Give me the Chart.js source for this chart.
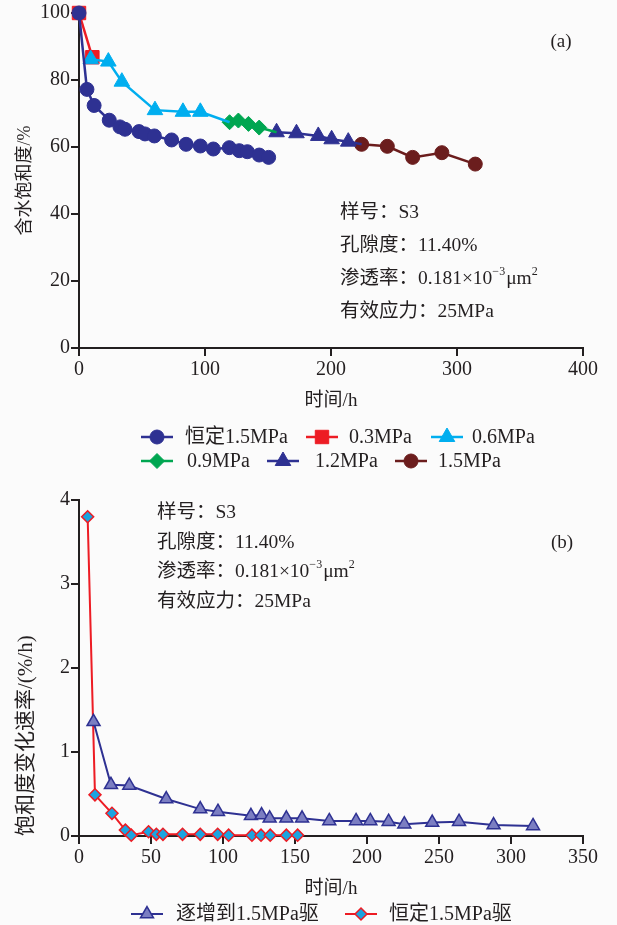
<!DOCTYPE html>
<html>
<head>
<meta charset="utf-8">
<script src="https://cdn.jsdelivr.net/npm/chart.js@4.4.0/dist/chart.umd.min.js"></script>
<style>
  html, body { margin: 0; padding: 0; background: #fbfbfb; }
  #wrap { position: relative; width: 617px; height: 925px; }
  canvas { position: absolute; left: 0; }
  #satChart { top: 0; }
  #rateChart { top: 478px; }
</style>
</head>
<body>
<div id="wrap">
  <canvas id="satChart" width="617" height="478"></canvas>
  <canvas id="rateChart" width="617" height="447"></canvas>
</div>
<script>
// ---- data (a): water saturation vs time ----
const constTime = [0, 6.3, 12, 24, 32.5, 36.5, 47.6, 52.4, 59.8, 73.5, 85, 96.3, 106.6, 119.3, 127.2, 133.6, 143, 150.5];
const constSat  = [100, 77.2, 72.4, 68, 66, 65.3, 64.6, 63.9, 63.3, 62.1, 60.8, 60.3, 59.4, 59.8, 58.9, 58.6, 57.6, 56.9];
const p03Time = [0, 10.6];
const p03Sat  = [100, 86.8];
const p06Time = [9.3, 23.3, 34, 60.3, 82.5, 96.3];
const p06Sat  = [86.2, 85.5, 79.5, 71, 70.5, 70.5];
const p09Time = [119.5, 126.5, 134.5, 143];
const p09Sat  = [67.4, 67.9, 66.9, 65.8];
const p12Time = [156.8, 172.6, 189.9, 200.5, 213.7];
const p12Sat  = [64.4, 64.1, 63.3, 62.3, 61.6];
const p15Time = [224.3, 244.7, 264.8, 288, 314.5];
const p15Sat  = [60.8, 60.2, 56.9, 58.3, 54.9];

// ---- data (b): saturation change rate vs time ----
const stepTime = [10.1, 22.2, 34.9, 60.6, 84.2, 96.5, 119.4, 126.8, 132.4, 144, 154.9, 173.8, 192.4, 202.3, 215, 225.9, 245.3, 263.9, 287.9, 315.3];
const stepRate = [1.36, 0.61, 0.60, 0.44, 0.32, 0.29, 0.24, 0.25, 0.21, 0.21, 0.21, 0.18, 0.18, 0.18, 0.17, 0.14, 0.16, 0.17, 0.13, 0.12];
const constRateTime = [6, 11.1, 22.9, 32.2, 36.3, 48.3, 53.7, 58.3, 71.9, 84.2, 96.3, 103.9, 120.1, 126.4, 132.8, 144, 151.8];
const constRate     = [3.80, 0.49, 0.27, 0.07, 0.01, 0.05, 0.02, 0.02, 0.02, 0.02, 0.02, 0.01, 0.01, 0.01, 0.01, 0.01, 0.01];

const satTicks = { min: 0, max: 100, step: 20 };
const timeTicksA = { min: 0, max: 400, step: 100 };
const rateTicks = { min: 0, max: 4, step: 1 };
const timeTicksB = { min: 0, max: 350, step: 50 };

const infoText = [
  [{ t: '样号：S3' }],
  [{ t: '孔隙度：11.40%' }],
  [{ t: '渗透率：0.181×10' }, { t: '−3', sup: true }, { t: 'μm' }, { t: '2', sup: true }],
  [{ t: '有效应力：25MPa' }]
];

const SERIF = "'Liberation Serif', 'Noto Sans CJK SC', serif";
const INK = '#231f20';
const NAVY = '#2e3192';
const RED = '#ed1c24';
const SKY = '#00aeef';
const GREEN = '#00a651';
const BROWN = '#6b1d1d';
const FS = 20;

Chart.defaults.font.family = SERIF;
Chart.defaults.color = INK;

const pts = (xs, ys) => xs.map((x, i) => ({ x: x, y: ys[i] }));

// a series, optionally running its line on to the first point of the next stage
function stage(label, xs, ys, color, style, r, order, nextXs, nextYs) {
  const data = pts(xs, ys);
  if (nextXs) data.push({ x: nextXs[0], y: nextYs[0] });
  const n = xs.length;
  return {
    label: label,
    data: data,
    showLine: true,
    borderColor: color,
    borderWidth: 2.5,
    backgroundColor: color,
    pointBackgroundColor: color,
    pointBorderColor: color,
    pointBorderWidth: 1,
    pointStyle: style,
    pointRadius: c => c.dataIndex < n ? r : 0,
    legendRadius: r,
    order: order,
    clip: false
  };
}

const notesPlugin = {
  id: 'notes',
  afterDraw(chart, args, opts) {
    const ctx = chart.ctx;
    ctx.save();
    ctx.fillStyle = INK;
    ctx.textBaseline = 'middle';
    ctx.textAlign = 'left';
    opts.lines.forEach((parts, i) => {
      let x = opts.x;
      const y = opts.y + i * opts.gap;
      parts.forEach(p => {
        ctx.font = (p.sup ? 12 : 19.5) + 'px ' + SERIF;
        ctx.fillText(p.t, x, p.sup ? y - 7 : y);
        x += ctx.measureText(p.t).width + (p.sup ? 1 : 0);
      });
    });
    ctx.font = '19px ' + SERIF;
    ctx.textAlign = 'center';
    ctx.fillText(opts.tag, opts.tagX, opts.tagY);
    ctx.restore();
  }
};

const keyPlugin = {
  id: 'key',
  afterDraw(chart, args, opts) {
    const ctx = chart.ctx;
    ctx.save();
    opts.items.forEach(it => {
      const ds = chart.data.datasets[it.ds];
      ctx.strokeStyle = ds.borderColor;
      ctx.lineWidth = ds.borderWidth;
      ctx.beginPath();
      ctx.moveTo(it.x - 16, it.y);
      ctx.lineTo(it.x + 16, it.y);
      ctx.stroke();
      ctx.fillStyle = ds.pointBackgroundColor;
      ctx.strokeStyle = ds.pointBorderColor;
      ctx.lineWidth = ds.pointBorderWidth;
      Chart.helpers.drawPoint(ctx, {
        pointStyle: ds.pointStyle,
        radius: ds.legendRadius,
        borderWidth: ds.pointBorderWidth,
        rotation: 0
      }, it.x, it.y);
      ctx.fillStyle = INK;
      ctx.font = FS + 'px ' + SERIF;
      ctx.textBaseline = 'middle';
      ctx.textAlign = 'left';
      ctx.fillText(ds.label, it.tx, it.y + 1);
    });
    ctx.restore();
  }
};

function axisX(t, afterH) {
  return {
    type: 'linear', min: t.min, max: t.max,
    ticks: { stepSize: t.step, font: { size: FS }, color: INK, padding: 2, maxRotation: 0 },
    grid: { drawOnChartArea: false, drawTicks: true, tickLength: 8, color: INK, lineWidth: 2 },
    border: { color: INK, width: 2 },
    title: { display: true, text: '时间/h', font: { size: 19 }, color: INK, padding: 0 },
    afterFit: s => { s.height = afterH; }
  };
}

function axisY(t, title, align, size) {
  return {
    type: 'linear', min: t.min, max: t.max,
    ticks: { stepSize: t.step, font: { size: FS }, color: INK, padding: 1 },
    grid: { drawOnChartArea: false, drawTicks: true, tickLength: 8, color: INK, lineWidth: 2 },
    border: { color: INK, width: 2 },
    title: { display: true, text: title, font: { size: size }, color: INK, padding: { top: 14 }, align: align },
    afterFit: s => { s.width = 79; }
  };
}

new Chart(document.getElementById('satChart'), {
  type: 'scatter',
  data: {
    datasets: [
      stage('恒定1.5MPa', constTime, constSat, NAVY, 'circle', 7, 0),
      stage('0.3MPa', p03Time, p03Sat, RED, 'rect', 9.5, 2),
      stage('0.6MPa', p06Time, p06Sat, SKY, 'triangle', 9, 1, p09Time, p09Sat),
      stage('0.9MPa', p09Time, p09Sat, GREEN, 'rectRot', 7.5, 3, p12Time, p12Sat),
      stage('1.2MPa', p12Time, p12Sat, NAVY, 'triangle', 9, 4, p15Time, p15Sat),
      stage('1.5MPa', p15Time, p15Sat, BROWN, 'circle', 7, 5)
    ]
  },
  options: {
    responsive: false,
    animation: false,
    layout: { padding: { left: 0, right: 34, top: 13, bottom: 66 } },
    scales: { x: axisX(timeTicksA, 64), y: axisY(satTicks, '含水饱和度/%', 'center', 18) },
    plugins: {
      legend: { display: false },
      tooltip: { enabled: false },
      notes: { lines: infoText, x: 340, y: 213, gap: 33, tag: '(a)', tagX: 561, tagY: 42 },
      key: { items: [
        { ds: 0, x: 157, y: 437, tx: 185 },
        { ds: 1, x: 322, y: 437, tx: 349 },
        { ds: 2, x: 447, y: 437, tx: 472 },
        { ds: 3, x: 157, y: 461, tx: 187 },
        { ds: 4, x: 283, y: 461, tx: 315 },
        { ds: 5, x: 411, y: 461, tx: 438 }
      ] }
    }
  },
  plugins: [notesPlugin, keyPlugin]
});

function rateSeries(label, xs, ys, line, fill, style, r, order) {
  return {
    label: label,
    data: pts(xs, ys),
    showLine: true,
    borderColor: line,
    borderWidth: 2,
    backgroundColor: fill,
    pointBackgroundColor: fill,
    pointBorderColor: line,
    pointBorderWidth: 1.5,
    pointStyle: style,
    pointRadius: r,
    legendRadius: r,
    order: order,
    clip: false
  };
}

new Chart(document.getElementById('rateChart'), {
  type: 'scatter',
  data: {
    datasets: [
      rateSeries('逐增到1.5MPa驱', stepTime, stepRate, NAVY, '#7b7ec2', 'triangle', 7.5, 0),
      rateSeries('恒定1.5MPa驱', constRateTime, constRate, RED, '#1ba4e0', 'rectRot', 6, 1)
    ]
  },
  options: {
    responsive: false,
    animation: false,
    layout: { padding: { left: 0, right: 34, top: 22, bottom: 25 } },
    scales: { x: axisX(timeTicksB, 64), y: axisY(rateTicks, '饱和度变化速率/(%/h)', 'start', 21) },
    plugins: {
      legend: { display: false },
      tooltip: { enabled: false },
      notes: { lines: infoText, x: 157, y: 35, gap: 29.5, tag: '(b)', tagX: 562, tagY: 65 },
      key: { items: [
        { ds: 0, x: 147, y: 436, tx: 176 },
        { ds: 1, x: 361, y: 436, tx: 389 }
      ] }
    }
  },
  plugins: [notesPlugin, keyPlugin]
});
</script>
</body>
</html>
